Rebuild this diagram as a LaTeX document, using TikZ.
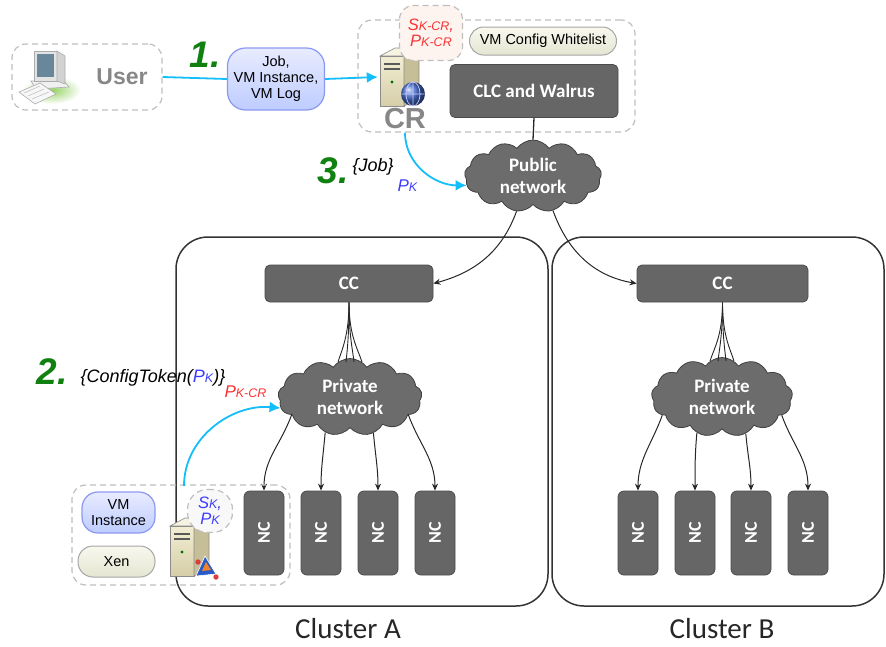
\documentclass[tikz,border=0pt]{standalone}
\usepackage{fontspec}
\setmainfont{Liberation Sans}
\newfontfamily\calfont{Carlito}
\usetikzlibrary{shapes.symbols,arrows.meta,calc}

\definecolor{cyanline}{RGB}{20,190,250}
\definecolor{stepgreen}{RGB}{16,128,16}
\definecolor{darkbox}{RGB}{102,102,102}
\definecolor{darkedge}{RGB}{75,75,75}
\definecolor{cloudfill}{RGB}{108,108,108}
\definecolor{dashgray}{RGB}{190,190,190}
\definecolor{keyblue}{RGB}{60,60,255}
\definecolor{keyred}{RGB}{250,50,50}
\definecolor{pilledge}{RGB}{140,152,240}
\definecolor{pilltop}{RGB}{232,236,255}
\definecolor{pillbottom}{RGB}{190,204,255}
\definecolor{beigetop}{RGB}{248,248,238}
\definecolor{beigebottom}{RGB}{228,230,210}
\definecolor{labelgray}{RGB}{135,135,135}

\newcommand\lowtxt[1]{{\fontsize{12.5}{14}\selectfont #1}}

\tikzset{
  dashedbox/.style={draw=dashgray, dash pattern=on 6pt off 4pt, line width=1.2pt, rounded corners=14pt},
  darkrect/.style={fill=darkbox, draw=darkedge, line width=0.8pt, rounded corners=5pt,
    text=white, font=\calfont\bfseries\fontsize{19}{21}\selectfont},
  ncbox/.style={darkrect, minimum width=40pt, minimum height=84pt, rounded corners=6pt, inner sep=0pt,
    font=\calfont\bfseries\fontsize{18}{20}\selectfont},
  netcloud/.style={cloud, cloud puffs=13, cloud puff arc=110, cloud ignores aspect,
    fill=cloudfill, draw=black!75, line width=0.8pt, text=white, align=center, inner sep=0pt,
    font=\calfont\bfseries\fontsize{19}{22}\selectfont},
  cluster/.style={draw=black!80, line width=1.5pt, rounded corners=32pt},
  clusterlabel/.style={font=\calfont\fontsize{29}{30}\selectfont, text=black!85, inner sep=1pt},
  bluepill/.style={draw=pilledge, line width=1.2pt, top color=pilltop, bottom color=pillbottom,
    align=center, font=\fontsize{14.5}{16}\selectfont},
  beigepill/.style={draw=black!35, line width=1pt, top color=beigetop, bottom color=beigebottom,
    align=center, font=\fontsize{14.5}{16}\selectfont},
  keycallout/.style={dashedbox, align=center, font=\itshape\fontsize{16.5}{17}\selectfont},
  stepnum/.style={text=stepgreen, font=\bfseries\itshape\fontsize{37}{39}\selectfont},
  msgtext/.style={font=\itshape\fontsize{18}{20}\selectfont},
  iconholder/.style={minimum width=44pt, minimum height=58pt, inner sep=0pt},
  cyanarrow/.style={draw=cyanline, line width=1.8pt, -{Latex[length=11pt,width=11pt]}},
  blackarrow/.style={draw=black!85, line width=1pt, -{Stealth[length=7pt,width=6pt]}},
  fanline/.style={draw=black!85, line width=0.9pt},
  % beige server tower; local origin in the middle of the tower
  servertower/.pic={
    \fill[fill={rgb,255:red,246;green,243;blue,224}, draw=black!45, line width=0.6pt]
      (-20,-21) -- (4,-21) -- (19,-29) -- (-5,-29) -- cycle;
    \shade[top color={rgb,255:red,242;green,238;blue,212}, bottom color={rgb,255:red,214;green,206;blue,168}, draw=black!45, line width=0.6pt]
      (-20,-21) -- (4,-21) -- (4,29) -- (-20,29) -- cycle;
    \fill[fill={rgb,255:red,198;green,190;blue,150}, draw=black!45, line width=0.6pt]
      (4,-21) -- (19,-29) -- (19,21) -- (4,29) -- cycle;
    \draw[black!65, line width=1.5pt] (-16,-13) -- (0,-13) (-16,-8) -- (0,-8);
    \fill[green!45!black] (-8,5) circle (1.7);
  },
  % desktop computer on a green shadow
  desktop/.pic={
    \shade[inner color={rgb,255:red,150;green,210;blue,100}, outer color=white] (9,13) ellipse (29 and 14);
    \fill[fill=gray!12, draw=gray!65, line width=0.6pt] (-12,4) -- (21,4) -- (26,10) -- (-7,12) -- cycle;
    \fill[fill=gray!22, draw=gray!65, line width=0.6pt] (-9,-26) -- (14,-26) -- (14,4) -- (-9,4) -- cycle;
    \fill[fill=gray!35, draw=gray!65, line width=0.6pt] (14,-26) -- (22,-21) -- (22,7) -- (14,4) -- cycle;
    \fill[fill={rgb,255:red,105;green,135;blue,155}] (-6,-23) rectangle (11,0);
    \fill[fill=gray!6, draw=gray!65, line width=0.6pt] (-24,15) -- (-3,6) -- (13,17) -- (-8,27) -- cycle;
    \draw[gray!55, line width=0.5pt] (-19,16) -- (-3,9) (-15,19) -- (1,12) (-11,22) -- (6,15);
  }
}

\begin{document}
\begin{tikzpicture}[x=1pt,y=-1pt]
\useasboundingbox (0,0) rectangle (886,646);

% ---------- clusters ----------
\node[cluster, minimum width=372pt, minimum height=369pt] (clusterA) at (362,421.5) {};
\node[cluster, minimum width=332pt, minimum height=369pt] (clusterB) at (718,421.5) {};
\node[clusterlabel] (labelA) at (348,629) {Cluster A};
\node[clusterlabel] (labelB) at (722,629) {Cluster B};

% ---------- user ----------
\node[dashedbox, minimum width=150pt, minimum height=66pt] (userbox) at (87,77) {};
\pic at (43,77) {desktop};
\node[text=labelgray, font=\bfseries\fontsize{23}{25}\selectfont] (userlabel) at (122,77) {User};

\node[stepnum] (stepone) at (205,55) {1.};
\node[bluepill, rounded corners=18pt, minimum width=97pt, minimum height=62pt, inner sep=1pt] (jobbox) at (276,79)
  {Job,\\VM Instance,\\VM Log};

% ---------- CR ----------
\node[dashedbox, minimum width=277pt, minimum height=112pt] (crbox) at (496.5,76) {};
\node[iconholder] (crserver) at (400,77) {};
\pic at (crserver) {servertower};
\shade[ball color={rgb,255:red,70;green,110;blue,210}] (413,94) circle (12);
\draw[white!80!blue, line width=0.7pt] (413,82) -- (413,106) (401,94) -- (425,94) (413,94) circle (7 and 12);
\node[text=labelgray, font=\bfseries\fontsize{29}{31}\selectfont] (crlabel) at (405,119) {CR};
\node[keycallout, fill={rgb,255:red,253;green,244;blue,240}, minimum width=63pt, minimum height=55pt, inner sep=1pt] (crkeys) at (431,33)
  {\textcolor{keyred}{S\lowtxt{K-CR},}\\[-1pt]\textcolor{keyred}{P\lowtxt{K-CR}}};
\node[beigepill, rounded corners=14pt, minimum width=147pt, minimum height=28pt] (whitelist) at (543,41) {VM Config Whitelist};
\node[darkrect, minimum width=168pt, minimum height=53pt] (clc) at (534,91) {CLC and Walrus};

\draw[cyanline, line width=1.8pt] (userbox.east) -- (jobbox.west);
\draw[cyanarrow] (jobbox.east) -- (crserver.west);

% ---------- public network ----------
\node[netcloud, minimum width=137pt, minimum height=72pt] (pub) at (533,176) {Public\\network};
\draw[line width=1.3pt, black!85] (clc.south) -- (pub.north);

\node[stepnum] (stepthree) at (333,171) {3.};
\node[msgtext, anchor=west] (jobmsg) at (349,167) {\{Job\}};
\node[anchor=west, text=keyblue, font=\itshape\fontsize{17}{19}\selectfont] (jobkey) at (394,186) {P\lowtxt{K}};
\draw[cyanarrow] (crlabel.south) to[out=-90,in=180] (pub.188);

% ---------- cluster A ----------
\node[darkrect, minimum width=168pt, minimum height=37pt] (ccA) at (349,283.5) {CC};
\node[netcloud, minimum width=144pt, minimum height=77pt] (pnA) at (350,397) {Private\\network};
\foreach \dx in {-12,-4,4,12}
  \draw[fanline] (ccA.south) .. controls +(0,34) and +(-\dx*0.3,-12) .. ($(pnA.north)+(\dx,4)$);
\foreach \i/\x in {1/264,2/321,3/378,4/435}
  \node[ncbox] (ncA\i) at (\x,533) {\rotatebox{90}{NC}};
\draw[blackarrow] (pnA.197) to[out=-110,in=90] (ncA1.north);
\draw[blackarrow] (pnA.235) to[out=-95,in=90] (ncA2.north);
\draw[blackarrow] (pnA.303) to[out=-85,in=90] (ncA3.north);
\draw[blackarrow] (pnA.343) to[out=-70,in=90] (ncA4.north);

% ---------- cluster B ----------
\node[darkrect, minimum width=171pt, minimum height=37pt] (ccB) at (722.5,283.5) {CC};
\node[netcloud, minimum width=141pt, minimum height=79pt] (pnB) at (722,397) {Private\\network};
\foreach \dx in {-12,-4,4,12}
  \draw[fanline] (ccB.south) .. controls +(0,34) and +(-\dx*0.3,-12) .. ($(pnB.north)+(\dx,4)$);
\foreach \i/\x in {1/638,2/695,3/751,4/808}
  \node[ncbox] (ncB\i) at (\x,533) {\rotatebox{90}{NC}};
\draw[blackarrow] (pnB.197) to[out=-110,in=90] (ncB1.north);
\draw[blackarrow] (pnB.235) to[out=-95,in=90] (ncB2.north);
\draw[blackarrow] (pnB.303) to[out=-85,in=90] (ncB3.north);
\draw[blackarrow] (pnB.343) to[out=-70,in=90] (ncB4.north);

% public network to both cluster controllers
\draw[blackarrow] (pub.245) to[out=-110,in=15] (ccA.east);
\draw[blackarrow] (pub.300) to[out=-70,in=170] (ccB.west);

% ---------- node with VM ----------
\node[dashedbox, minimum width=218pt, minimum height=100pt] (nodebox) at (181,535) {};
\node[bluepill, rounded corners=16pt, minimum width=73pt, minimum height=41pt, inner sep=1pt] (vminst) at (118.5,512.5) {VM\\Instance};
\node[beigepill, rounded corners=15pt, minimum width=77pt, minimum height=31pt] (xen) at (116.5,561.5) {Xen};
\node[iconholder] (nodeserver) at (190,547) {};
\pic at (nodeserver) {servertower};
\fill[fill={rgb,255:red,40;green,90;blue,200}, draw=white, line width=0.6pt] (196,576) -- (205,556) -- (216,574) -- cycle;
\fill[fill={rgb,255:red,240;green,130;blue,40}] (202,571) -- (206,562) -- (211,570) -- cycle;
\fill[fill={rgb,255:red,220;green,60;blue,60}] (198,562) circle (2.7) (216,577) circle (2.7);
\node[keycallout, fill={rgb,255:red,248;green,248;blue,248}, rounded corners=20pt, minimum width=45pt, minimum height=43pt, inner sep=1pt] (nodekeys) at (210,511)
  {\textcolor{keyblue}{S\lowtxt{K},}\\[-1pt]\textcolor{keyblue}{P\lowtxt{K}}};

\node[stepnum] (steptwo) at (52,372) {2.};
\node[msgtext, anchor=west] (tokenmsg) at (77,378) {\{ConfigToken(\textcolor{keyblue}{P\lowtxt{K}})\}};
\node[anchor=west, text=keyred, font=\itshape\fontsize{17}{19}\selectfont] (tokenkey) at (221,392) {P\lowtxt{K-CR}};

\coordinate (tokensrc) at (184,486);
\draw[cyanarrow] (tokensrc) to[out=90,in=175] (pnA.189);

\end{tikzpicture}
\end{document}
